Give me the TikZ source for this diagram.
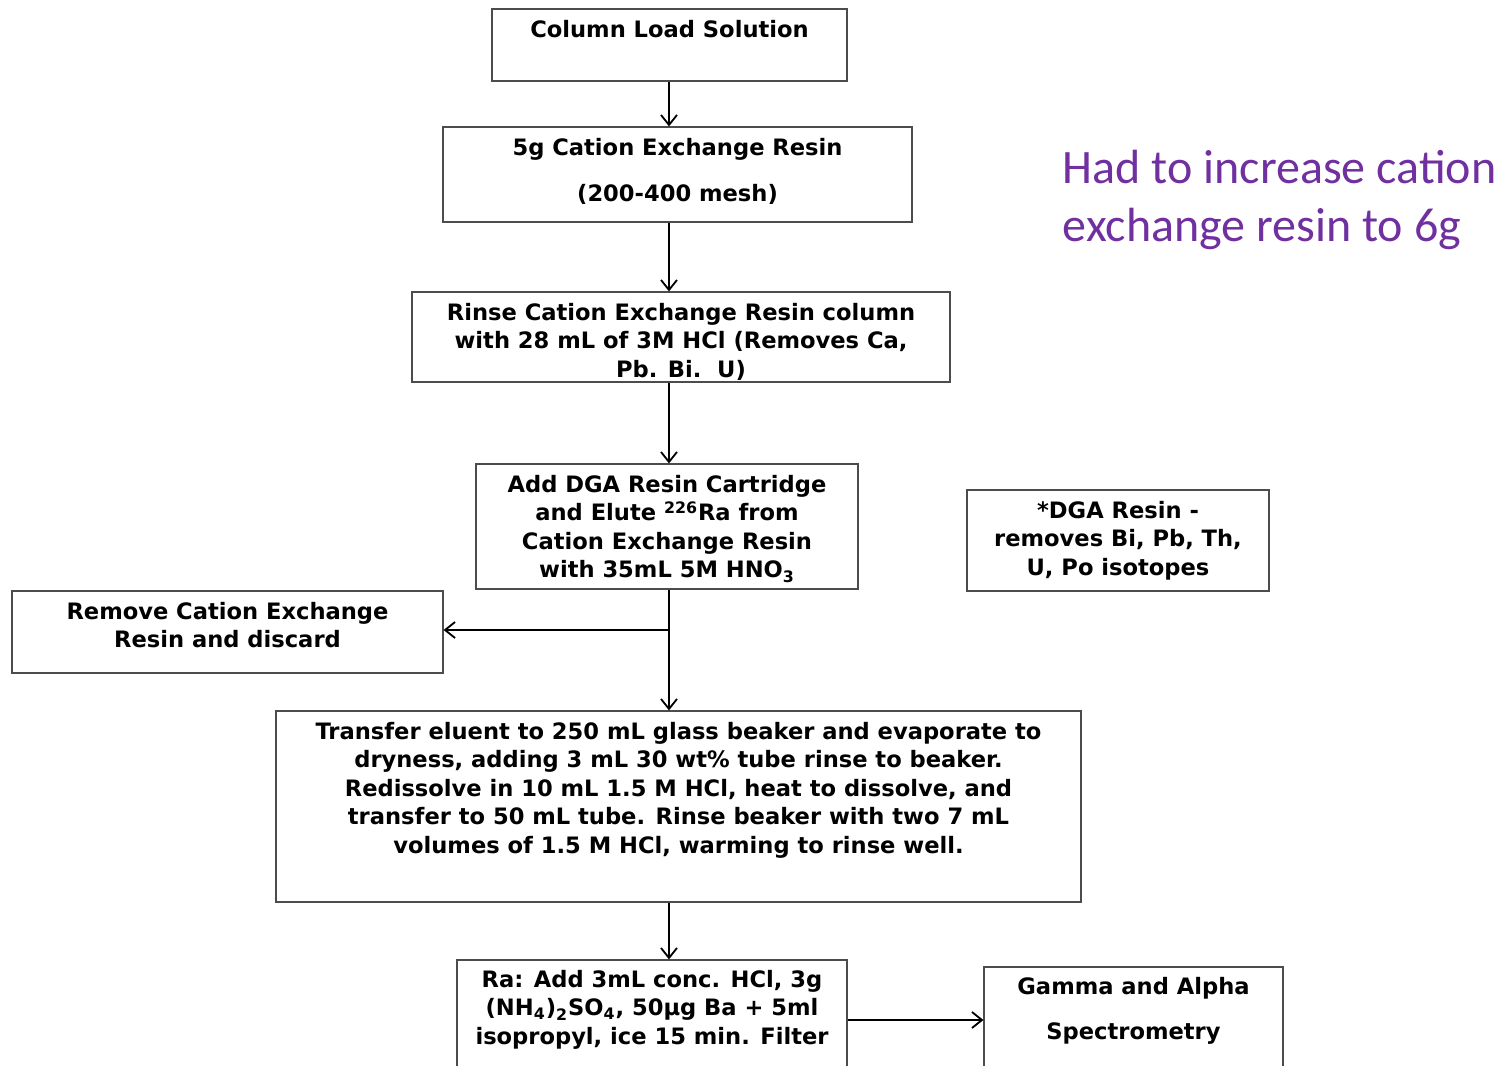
\documentclass[tikz,border=0pt]{standalone}
\usepackage{fontspec}
\setmainfont{DejaVu Sans}
\newfontfamily\notefont{Carlito}
\usepackage{tikz}
\usetikzlibrary{arrows.meta,positioning}
\definecolor{notepurple}{RGB}{112,48,160}
\tikzstyle{stage} = [rectangle, draw=black!70, line width=0.6pt, inner sep=0pt]
\tikzstyle{stagetext} = [align=center, inner sep=0pt, font=\bfseries\fontsize{11.3}{14.25}\selectfont]

\begin{document}
\begin{tikzpicture}[x=0.5pt,y=-0.5pt,->,>={Straight Barb[length=5pt,width=8pt]},line width=0.9pt]
  \useasboundingbox (0,0) rectangle (1507,1065);
  \clip (0,0) rectangle (1507,1065);
  \coordinate (spine) at (669,0);

  % boxes
  \node[stage, minimum width=177.5pt, minimum height=36pt] (load) at (669.5,45) {};
  \node[stage, minimum width=234.5pt, minimum height=47.5pt] (resin) at (677.5,174.5) {};
  \node[stage, minimum width=269pt, minimum height=45pt] (rinse) at (681,337) {};
  \node[stage, minimum width=191pt, minimum height=62.5pt] (dga) at (667,526.5) {};
  \node[stage, minimum width=151pt, minimum height=50.5pt] (note) at (1118,540.5) {};
  \node[stage, minimum width=215.5pt, minimum height=41pt] (discard) at (227.5,632) {};
  \node[stage, minimum width=402.5pt, minimum height=95.5pt] (transfer) at (678.5,806.5) {};
  \node[stage, minimum width=195pt, minimum height=60pt] (ra) at (652,1020) {};
  \node[stage, minimum width=149.5pt, minimum height=53pt] (gamma) at (1133.5,1020) {};

  % texts
  \node[stagetext, below=5.5pt of load.north] (loadtxt) {Column Load Solution};
  \node[stagetext, below=5.5pt of resin.north] (resintxt) {5g Cation Exchange Resin\\[8.75pt](200-400 mesh)};
  \node[stagetext, below=5.5pt of rinse.north] (rinsetxt) {Rinse Cation Exchange Resin column\\with 28 mL of 3M HCl (Removes Ca,\\Pb. Bi.\ \ U)};
  \node[stagetext, below=5.5pt of dga.north] (dgatxt) {Add DGA Resin Cartridge\\and Elute \textsuperscript{226}Ra from\\Cation Exchange Resin\\with 35mL 5M HNO\textsubscript{3}};
  \node[stagetext, below=5.5pt of note.north] (notetxt) {*DGA Resin -\\removes Bi, Pb, Th,\\U, Po isotopes};
  \node[stagetext, below=5.5pt of discard.north] (discardtxt) {Remove Cation Exchange\\Resin and discard};
  \node[stagetext, below=5.5pt of transfer.north] (transfertxt) {Transfer eluent to 250 mL glass beaker and evaporate to\\dryness, adding 3 mL 30 wt\% tube rinse to beaker.\\Redissolve in 10 mL 1.5 M HCl, heat to dissolve, and\\transfer to 50 mL tube. Rinse beaker with two 7 mL\\volumes of 1.5 M HCl, warming to rinse well.};
  \node[stagetext, below=5pt of ra.north] (ratxt) {Ra: Add 3mL conc. HCl, 3g\\(NH\textsubscript{4})\textsubscript{2}SO\textsubscript{4}, 50µg Ba + 5ml\\isopropyl, ice 15 min. Filter};
  \node[stagetext, below=5pt of gamma.north] (gammatxt) {Gamma and Alpha\\[8.25pt]Spectrometry};

  \node[anchor=north west, align=left, inner sep=0pt, text=notepurple, font=\notefont\fontsize{24}{29}\selectfont] (change) at (1062,149) {Had to increase cation\\exchange resin to 6g};

  % flow
  \path (load.south -| spine) edge (resin.north -| spine);
  \path (resin.south -| spine) edge (rinse.north -| spine);
  \path (rinse.south -| spine) edge (dga.north -| spine);
  \path (dga.south -| spine) edge (transfer.north -| spine);
  \coordinate (split) at (669,630);
  \path (split) edge (split -| discard.east);
  \path (transfer.south -| spine) edge (ra.north -| spine);
  \path (ra.east) edge (gamma.west);
\end{tikzpicture}
\end{document}
